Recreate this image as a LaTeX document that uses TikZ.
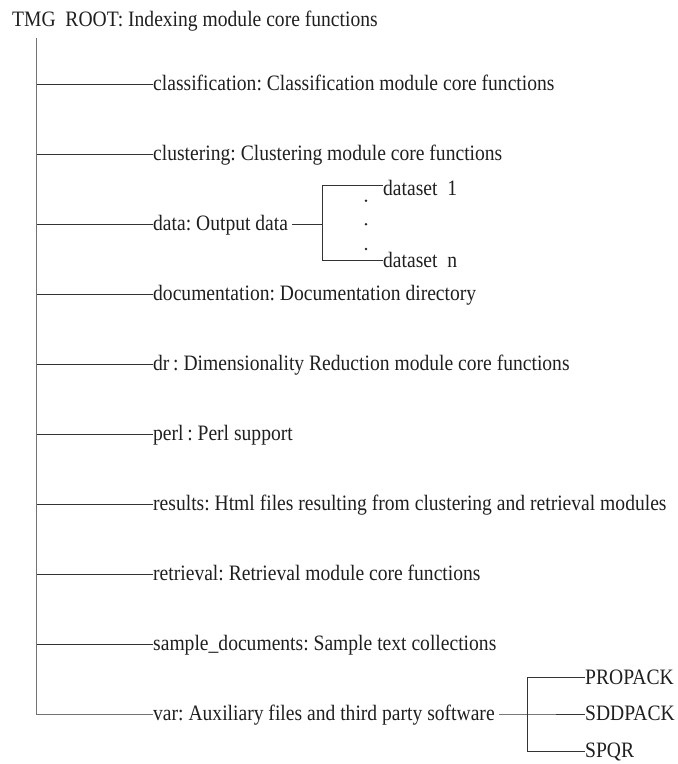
\documentclass[tikz,border=0pt]{standalone}
\usepackage{fontspec}
\setmainfont[FakeStretch=0.89]{Liberation Serif}
\usetikzlibrary{positioning,calc}
\tikzset{%
	entry/.style  = {anchor=west, inner sep=0pt, text height=17pt, text depth=3.6pt, font=\fontsize{22}{25}\selectfont\frenchspacing, text=black!88},
	branch/.style = {draw=black!80, line width=0.9pt},
	trunk/.style  = {draw=black!55, line width=1pt},
	dot/.style    = {circle, fill=black!85, inner sep=0pt, minimum size=2.8pt},
}
\begin{document}
\begin{tikzpicture}[x=1pt,y=-1pt]
	\useasboundingbox (0,0) rectangle (678,764);
	
	\node[entry] (root) at (12,20) {TMG~~ROOT: Indexing module core functions};
	\coordinate (top) at (36.7,38);
	
	\foreach \name/\txt [count=\i] in {cls/{classification: Classification module core functions},
		clu/{clustering: Clustering module core functions},
		data/{data: Output data},
		doc/{documentation: Documentation directory},
		dr/{dr\,: Dimensionality Reduction module core functions},
		perl/{perl\,: Perl support},
		res/{results: Html files resulting from clustering and retrieval modules},
		ret/{retrieval: Retrieval module core functions},
		smp/{sample\_documents: Sample text collections},
		var/{var: Auxiliary files and third party software}}
	{
		\node[entry] (\name) at (153,{84+70*(\i-1)}) {\txt};
		\coordinate (j\name) at (36.7,{84+70*(\i-1)});
		\draw[branch] (j\name) -- (\name.west);
	}
	\draw[trunk] (top) |- (var.west);
	
	% data sets
	\coordinate (dfork) at (322.7,224);
	\node[entry] (ds1) at (383,188.3) {dataset~~1};
	\node[entry] (dsn) at (383,260.6) {dataset~~n};
	\draw[branch] ([xshift=4pt]data.east) -- (dfork);
	\draw[branch] ([yshift=3.3pt]ds1.west) -| (dfork) |- (dsn.west);
	\foreach \y in {200.7,224.3,249} \node[dot] at (366,\y) {};
	
	% third party software
	\coordinate (vfork) at (527.7,714);
	\node[entry] (pro) at (585,677.5) {PROPACK};
	\node[entry] (sdd) at (585,714) {SDDPACK};
	\node[entry] (spq) at (585,751) {SPQR};
	\draw[branch] ([xshift=4pt]var.east) -- (vfork) -- (sdd.west);
	\draw[branch] (pro.west) -| (vfork) |- (spq.west);
\end{tikzpicture}
\end{document}
